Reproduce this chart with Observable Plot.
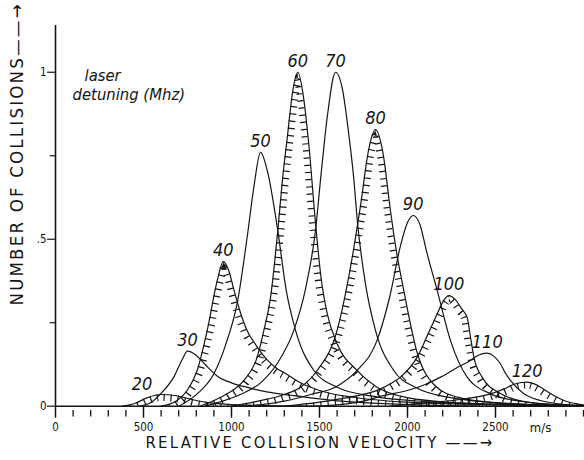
<!DOCTYPE html>
<html>
<head>
<meta charset="utf-8">
<script src="https://cdn.jsdelivr.net/npm/d3@7"></script>
<script src="https://cdn.jsdelivr.net/npm/@observablehq/plot@0.6"></script>
<style>
  html, body { margin: 0; padding: 0; background: white; }
</style>
</head>
<body>
<div id="chart"></div>
<script>
// ---- Data: [relative collision velocity (m/s), number of collisions] ----
const c20  = [[380,0],[450,0.008],[520,0.025],[600,0.035],[680,0.032],[760,0.022],[850,0.012],[1000,0.005],[1200,0.002],[1500,0]];
const c30  = [[480,0],[540,0.01],[597,0.037],[672,0.087],[720,0.14],[750,0.165],[800,0.152],[850,0.125],[920,0.09],[1000,0.07],[1100,0.055],[1200,0.043],[1350,0.032],[1500,0.022],[1700,0.012],[2000,0.005],[2400,0]];
const c40  = [[600,0],[691,0.017],[748,0.047],[805,0.107],[862,0.227],[919,0.376],[953,0.433],[985,0.405],[1013,0.35],[1051,0.28],[1090,0.225],[1136,0.185],[1200,0.14],[1260,0.112],[1300,0.1],[1392,0.07],[1500,0.047],[1700,0.026],[2000,0.012],[2500,0.004],[2900,0]];
const c50  = [[700,0],[805,0.037],[900,0.097],[975,0.197],[1032,0.307],[1089,0.506],[1127,0.656],[1165,0.76],[1203,0.706],[1263,0.526],[1310,0.35],[1364,0.227],[1468,0.107],[1600,0.057],[1800,0.03],[2100,0.014],[2600,0.005],[3000,0.002]];
const c60  = [[820,0],[900,0.017],[975,0.037],[1070,0.077],[1146,0.147],[1184,0.227],[1222,0.326],[1263,0.526],[1290,0.68],[1316,0.8],[1350,0.95],[1377,1.0],[1405,0.94],[1440,0.78],[1477,0.55],[1510,0.38],[1544,0.277],[1600,0.187],[1714,0.107],[1827,0.057],[1960,0.03],[2200,0.013],[2600,0.004],[3000,0.001]];
const c70  = [[850,0],[950,0.015],[1050,0.035],[1165,0.07],[1259,0.127],[1354,0.227],[1420,0.35],[1477,0.526],[1510,0.7],[1545,0.87],[1591,1.0],[1630,0.95],[1665,0.82],[1695,0.68],[1714,0.56],[1760,0.37],[1818,0.227],[1922,0.107],[2050,0.055],[2250,0.025],[2600,0.008],[3000,0.002]];
const c80  = [[1000,0],[1150,0.015],[1300,0.035],[1392,0.057],[1487,0.107],[1600,0.227],[1660,0.37],[1705,0.506],[1733,0.6],[1780,0.77],[1818,0.828],[1860,0.76],[1903,0.586],[1932,0.48],[1979,0.346],[2055,0.16],[2150,0.065],[2283,0.027],[2500,0.01],[2800,0.003]];
const c90  = [[1100,0],[1300,0.015],[1450,0.035],[1600,0.06],[1714,0.107],[1827,0.197],[1900,0.33],[1960,0.48],[2000,0.55],[2032,0.571],[2070,0.545],[2110,0.46],[2169,0.346],[2244,0.197],[2339,0.087],[2472,0.037],[2650,0.014],[2900,0.004]];
const c100 = [[1300,0],[1500,0.012],[1700,0.03],[1830,0.048],[1903,0.067],[1960,0.087],[2055,0.147],[2120,0.22],[2169,0.277],[2210,0.32],[2235,0.331],[2270,0.32],[2310,0.29],[2339,0.266],[2360,0.2],[2377,0.147],[2424,0.087],[2528,0.038],[2650,0.015],[2850,0.004],[3000,0.001]];
const c110 = [[1500,0],[1750,0.015],[1850,0.03],[1998,0.047],[2100,0.065],[2188,0.087],[2280,0.115],[2358,0.137],[2400,0.152],[2453,0.159],[2490,0.15],[2528,0.127],[2555,0.1],[2585,0.077],[2661,0.037],[2755,0.017],[2900,0.005],[3000,0.002]];
const c120 = [[1900,0],[2100,0.01],[2300,0.02],[2472,0.037],[2550,0.052],[2602,0.065],[2650,0.071],[2680,0.072],[2720,0.067],[2756,0.057],[2800,0.042],[2850,0.027],[2900,0.015],[2963,0.007],[3000,0.004]];

const detunings = [20, 30, 40, 50, 60, 70, 80, 90, 100, 110, 120];   // laser detuning (MHz)
const curvePoints = [c20, c30, c40, c50, c60, c70, c80, c90, c100, c110, c120];
const hatchedDetunings = [20, 40, 60, 80, 100, 120];

const xMajorTicks = [0, 500, 1000, 1500, 2000, 2500];
const xTickLabels = ["0", "500", "1000", "1500", "2000", "2500"];
const xMinorTicks = [100, 200, 300, 400, 600, 700, 800, 900, 1100, 1200, 1300, 1400, 1600, 1700, 1800, 1900,
                     2100, 2200, 2300, 2400, 2600, 2700, 2800, 2900, 3000];
const yMajorTicks = [0, 0.5, 1];
const yTickLabels = ["0", ".5", "1"];
const yMinorTicks = [0.25, 0.75];

// ---- tables built from the arrays ----
const rows = detunings.flatMap((m, i) => curvePoints[i].map(([v, n]) => ({mhz: m, v, n})));
const peaks = detunings.map((m, i) => {
  const p = d3.greatest(curvePoints[i], d => d[1]);
  return {mhz: m, v: p[0], n: p[1], label: String(m)};
});
const xLab = xMajorTicks.map((v, i) => ({v, label: xTickLabels[i]}));
const yLab = yMajorTicks.map((n, i) => ({n, label: yTickLabels[i]}));

const ink = "#151515";
const font = "'DejaVu Sans Condensed','DejaVu Sans',sans-serif";
const X_TITLE = "RELATIVE COLLISION VELOCITY ——→";
const Y_TITLE = "NUMBER OF COLLISIONS——→";

// hatched peaks: an invisible area (used as clip) + a wide dashed stroke (the hatching)
const hatchMarks = hatchedDetunings.flatMap(m => {
  const d = rows.filter(r => r.mhz === m);
  return [
    Plot.areaY(d, {x: "v", y: "n", curve: "monotone-x", fill: "white", fillOpacity: 0}),
    Plot.line(d, {x: "v", y: "n", curve: "monotone-x", stroke: ink, strokeWidth: 13,
                  strokeDasharray: "1.2,6", strokeLinecap: "butt", strokeLinejoin: "miter"})
  ];
});

const chart = Plot.plot({
  width: 584,
  height: 460,
  marginLeft: 55,
  marginRight: 1,
  marginTop: 25,
  marginBottom: 54.3,
  x: {domain: [0, 3000], axis: null},
  y: {domain: [0, 1.14], axis: null},
  style: {fontFamily: font, fontStretch: "condensed", background: "white", color: ink},
  marks: [
    ...hatchMarks,
    Plot.line(rows, {x: "v", y: "n", z: "mhz", curve: "monotone-x", stroke: ink, strokeWidth: 1.2}),
    // axes
    Plot.ruleY([0], {x1: 0, x2: 3000, stroke: ink, strokeWidth: 1.6}),
    Plot.ruleX([0], {y1: 0, y2: 1.14, stroke: ink, strokeWidth: 1.6}),
    Plot.ruleX(xMajorTicks, {x: d => d, y1: 0, y2: -0.036, stroke: ink, strokeWidth: 1.5}),
    Plot.ruleX(xMinorTicks, {x: d => d, y1: -0.013, y2: -0.032, stroke: ink, strokeWidth: 1.3}),
    Plot.ruleY(yMajorTicks, {y: d => d, x1: -45, x2: 0, stroke: ink, strokeWidth: 1.2}),
    Plot.ruleY(yMinorTicks, {y: d => d, x1: -30, x2: 0, stroke: ink, strokeWidth: 1.2}),
    Plot.text(xLab, {x: "v", y: 0, text: "label", dy: 21.5, fontSize: 11.5, fill: ink}),
    Plot.text(["m/s"], {x: 2756, y: 0, text: d => d, dy: 21.5, fontSize: 13, fill: ink}),
    Plot.text(yLab, {x: 0, y: "n", text: "label", dx: -9, textAnchor: "end", fontSize: 11.5, fill: ink}),
    // curve labels
    Plot.text(peaks.filter(p => p.mhz !== 20), {x: "v", y: "n", text: "label", dy: -11,
      fontSize: 18, fontStyle: "italic", fill: ink}),
    Plot.text(peaks.filter(p => p.mhz === 20), {x: "v", y: "n", text: "label", dy: -10, dx: -19,
      fontSize: 18, fontStyle: "italic", fill: ink}),
    // annotations
    Plot.text(["laser"], {frameAnchor: "top-left", text: d => d, dx: 29, dy: 44,
      textAnchor: "start", fontSize: 16.5, fontStyle: "italic", fill: ink}),
    Plot.text(["detuning (Mhz)"], {frameAnchor: "top-left", text: d => d, dx: 17, dy: 62.5,
      textAnchor: "start", fontSize: 16.5, fontStyle: "italic", fill: ink}),
    Plot.text([X_TITLE], {frameAnchor: "bottom-left", text: d => d,
      dx: 90, dy: 42, textAnchor: "start", fontSize: 16.5, fill: ink}),
    Plot.text([Y_TITLE], {frameAnchor: "bottom-left", text: d => d,
      dx: -33, dy: -100.7, rotate: -90, textAnchor: "start", fontSize: 18.5, fill: ink})
  ]
});

// clip each hatch stroke to the area under its own curve, so the hatching sits inside the peak
const NS = "http://www.w3.org/2000/svg";
const defs = document.createElementNS(NS, "defs");
chart.insertBefore(defs, chart.firstChild);
const areaGroups = Array.from(chart.querySelectorAll('g[aria-label="area"]'));
const lineGroups = Array.from(chart.querySelectorAll('g[aria-label="line"]'));
hatchedDetunings.forEach((m, i) => {
  const ag = areaGroups[i], h = lineGroups[i];
  if (!ag || !h) return;
  const a = ag.querySelector("path");
  if (!a) return;
  const cp = document.createElementNS(NS, "clipPath");
  cp.setAttribute("id", `hclip-${m}`);
  const p = document.createElementNS(NS, "path");
  p.setAttribute("d", a.getAttribute("d"));
  cp.appendChild(p);
  defs.appendChild(cp);
  const w = document.createElementNS(NS, "g");
  h.parentNode.insertBefore(w, h);
  w.appendChild(h);
  w.setAttribute("clip-path", `url(#hclip-${m})`);
});

// letter spacing on the axis titles (the original uses wide technical lettering)
for (const t of chart.querySelectorAll("text")) {
  if (t.textContent === X_TITLE) t.style.letterSpacing = "2.3px";
  if (t.textContent === Y_TITLE) t.style.letterSpacing = "2.2px";
}

document.getElementById("chart").appendChild(chart);
</script>
</body>
</html>
